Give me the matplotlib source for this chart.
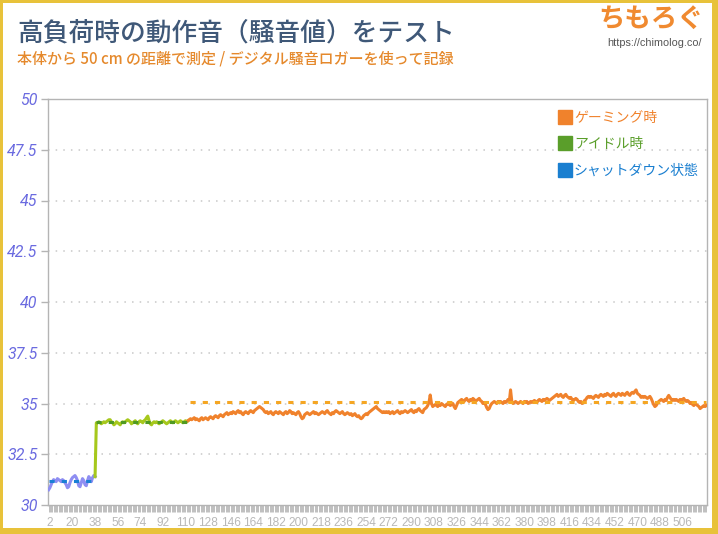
import matplotlib
matplotlib.use("Agg")
import matplotlib.pyplot as plt
import numpy as np
from matplotlib.lines import Line2D
from matplotlib.patches import Rectangle

plt.rcParams["font.family"] = ["Noto Sans CJK JP", "DejaVu Sans"]

# --- data -------------------------------------------------------------
title = "高負荷時の動作音（騒音値）をテスト"
subtitle = "本体から 50 cm の距離で測定 / デジタル騒音ロガーを使って記録"
series_names = ["ゲーミング時", "アイドル時", "シャットダウン状態"]

n_points = 525
x_label_first = 2
x_label_last = 506
x_label_step = 18
y_ticks = [30, 32.5, 35, 37.5, 40, 42.5, 45, 47.5, 50]
y_labels = ["30", "32.5", "35", "37.5", "40", "42.5", "45", "47.5", "50"]

# shutdown state, samples 1..38
shutdown_start = 1
shutdown = [
    30.75, 30.85, 31.0, 31.15, 31.25, 31.2, 31.15, 31.3, 31.25, 31.2,
    31.15, 31.25, 31.2, 31.1, 31.0, 30.85, 30.9, 31.1, 31.25, 31.35,
    31.4, 31.45, 31.35, 31.2, 30.95, 30.9, 31.1, 31.3, 31.2, 31.0,
    30.95, 31.2, 31.4, 31.3, 31.15, 31.35, 31.45, 31.4,
]
shutdown_avg = 31.18

# idle, samples 38..112 (first value joins the shutdown line)
idle_start = 38
idle = [
    31.4, 34.05,
    34.05, 34.1, 34.05, 34.0, 34.05, 34.1, 34.05, 34.1, 34.15, 34.2,
    34.2, 34.1, 34.05, 33.95, 34.0, 34.1, 34.05, 34.0, 33.95, 34.05,
    34.1, 34.05, 34.1, 34.15, 34.2, 34.15, 34.1, 34.0, 34.05, 34.1,
    34.15, 34.05, 34.0, 34.1, 34.15, 34.1, 34.05, 34.15, 34.2, 34.3,
    34.38, 34.15, 34.0, 33.95, 34.05, 34.1, 34.05, 34.1, 34.05, 34.0,
    34.05, 34.1, 34.15, 34.1, 34.05, 34.0, 34.05, 34.1, 34.15, 34.1,
    34.05, 34.1, 34.15, 34.1, 34.05, 34.1, 34.15, 34.1, 34.05, 34.1,
    34.15, 34.1, 34.15,
]
idle_avg = 34.08

# gaming, samples 112..525
gaming_start = 112
gaming = [
    34.15, 34.2, 34.25, 34.2, 34.25, 34.3, 34.2, 34.25, 34.2, 34.15, 34.25, 34.3, 34.2, 34.25,
    34.3, 34.25, 34.2, 34.3, 34.35, 34.3, 34.25, 34.35, 34.4, 34.35,
    34.3, 34.4, 34.45, 34.4, 34.35, 34.45, 34.5, 34.55, 34.45, 34.5,
    34.55, 34.5, 34.6, 34.55, 34.5, 34.6, 34.65, 34.55, 34.6, 34.5,
    34.45, 34.55, 34.6, 34.55, 34.5, 34.6, 34.65, 34.6, 34.55, 34.65,
    34.7, 34.75, 34.8, 34.85, 34.8,
    34.75, 34.7, 34.6, 34.55, 34.6, 34.5, 34.55, 34.6, 34.5, 34.45,
    34.55, 34.6, 34.55, 34.5, 34.6, 34.55, 34.5, 34.45, 34.55, 34.6,
    34.5, 34.55, 34.65, 34.6, 34.5, 34.55, 34.5, 34.45, 34.55, 34.6,
    34.5, 34.35, 34.25, 34.3, 34.45, 34.5, 34.55, 34.5, 34.45, 34.5,
    34.55, 34.6, 34.5, 34.55, 34.5, 34.45, 34.5, 34.55, 34.6, 34.55,
    34.5, 34.6, 34.65, 34.55, 34.5, 34.45, 34.55, 34.5, 34.6, 34.65,
    34.6, 34.55, 34.5, 34.55, 34.6, 34.5, 34.45, 34.5, 34.55, 34.5,
    34.45, 34.5, 34.4, 34.45, 34.5, 34.4, 34.35, 34.4, 34.3, 34.25,
    34.3, 34.4, 34.45, 34.5, 34.45, 34.55, 34.6, 34.65, 34.7, 34.75,
    34.8, 34.85, 34.75, 34.7, 34.65, 34.6, 34.55, 34.6, 34.55, 34.6,
    34.55, 34.6, 34.5, 34.55, 34.6, 34.5, 34.55, 34.6, 34.65, 34.55,
    34.5, 34.6, 34.55, 34.6, 34.65, 34.6, 34.55, 34.6, 34.65, 34.7,
    34.6, 34.55, 34.65, 34.6, 34.7, 34.75, 34.65, 34.6, 34.55, 34.7,
    34.75, 34.8, 34.9, 35.05, 35.42, 35.0, 34.85, 34.9, 34.95, 34.9,
    34.85, 34.95, 34.9, 35.0, 34.95, 34.9, 34.85, 34.95, 35.0, 34.95,
    34.9, 34.95, 35.0, 34.85, 34.75, 34.9, 35.05, 35.1, 35.15, 35.2,
    35.15, 35.1, 35.2, 35.25, 35.15, 35.1, 35.2, 35.15, 35.25, 35.2,
    35.1, 35.15, 35.2, 35.25, 35.15, 35.1, 35.0, 35.05, 34.95, 34.8,
    34.7, 34.75, 34.9, 35.0, 35.05, 35.1, 35.05, 35.0, 35.1, 35.05,
    35.1, 35.05, 35.0, 35.1, 35.05, 35.1, 35.2, 35.1, 35.67, 35.1,
    35.0, 35.05, 35.1, 35.05, 35.0, 35.05, 35.1, 35.05, 35.0, 35.1,
    35.05, 35.1, 35.0, 35.05, 35.1, 35.05, 35.1, 35.15, 35.1, 35.05,
    35.15, 35.2, 35.15, 35.1, 35.2, 35.15, 35.2, 35.25, 35.2, 35.15,
    35.2, 35.25, 35.3, 35.35, 35.4, 35.45, 35.35, 35.4, 35.45, 35.35,
    35.3, 35.4, 35.45, 35.35, 35.3, 35.25, 35.3, 35.2, 35.15, 35.2,
    35.25, 35.2, 35.1, 35.05, 35.1, 35.0, 35.05, 35.15, 35.2, 35.3,
    35.35, 35.3, 35.35, 35.3, 35.25, 35.35, 35.4, 35.35, 35.3, 35.4,
    35.45, 35.4, 35.35, 35.45, 35.4, 35.5, 35.45, 35.4, 35.35, 35.45,
    35.5, 35.4, 35.35, 35.45, 35.5, 35.45, 35.4, 35.5, 35.45, 35.4,
    35.5, 35.55, 35.45, 35.4, 35.5, 35.55, 35.5, 35.6, 35.67, 35.5,
    35.45, 35.4, 35.3, 35.35, 35.3, 35.35, 35.3, 35.25, 35.3, 35.35,
    35.25, 35.1, 34.95, 34.85, 34.9, 35.0, 35.1, 35.15, 35.2, 35.15,
    35.1, 35.2, 35.15, 35.3, 35.4, 35.3, 35.2, 35.15, 35.2, 35.15,
    35.2, 35.15, 35.1, 35.2, 35.15, 35.2, 35.25, 35.15, 35.1, 35.15,
    35.1, 35.0, 35.05, 34.95, 34.9, 35.0, 34.95, 34.9, 34.85, 34.75,
    34.8, 34.85, 34.9, 34.85, 34.9,
]
gaming_avg = 35.08

# --- colours ----------------------------------------------------------
c_title = "#3f5878"
c_sub = "#e5892c"
c_gaming, c_gaming_avg = "#f0822c", "#f5a623"
c_idle, c_idle_avg = "#a6c81c", "#4f9a22"
c_shut, c_shut_avg = "#8e8ef2", "#1a7fd5"
legend_colors = ["#f0822c", "#5a9e2a", "#1a7fd0"]
c_axis = "#b4b4b4"

W, H = 718, 534
fig = plt.figure(figsize=(W / 100, H / 100), dpi=100)
fig.patch.set_facecolor("white")

ax = fig.add_axes([48 / W, 29 / H, 659 / W, 406 / H])

x_shut = np.arange(shutdown_start, shutdown_start + len(shutdown))
x_idle = np.arange(idle_start, idle_start + len(idle))
x_game = np.arange(gaming_start, gaming_start + len(gaming))

lw = 2.2
ax.plot(x_shut, shutdown, color=c_shut, lw=lw, zorder=3, solid_joinstyle="round")
ax.plot(x_idle, idle, color=c_idle, lw=lw, zorder=3, solid_joinstyle="round")
ax.plot(x_game, gaming, color=c_gaming, lw=lw, zorder=3, solid_joinstyle="round")

dash = (1.7, 2.3)
ax.plot([x_shut[0], x_shut[-1]], [shutdown_avg] * 2, color=c_shut_avg, lw=2.2, dashes=dash, zorder=4)
ax.plot([x_idle[1], x_idle[-1]], [idle_avg] * 2, color=c_idle_avg, lw=2.2, dashes=dash, zorder=4)
ax.plot([x_game[2], n_points], [gaming_avg] * 2, color=c_gaming_avg, lw=2.2, dashes=dash, zorder=4)

ax.set_xlim(0.5, n_points + 0.5)
ax.set_ylim(y_ticks[0], y_ticks[-1])

# y axis
ax.set_yticks(y_ticks)
ax.set_yticklabels(y_labels, family=["Roboto", "DejaVu Sans"],
                   style="italic", fontsize=11.5, color="#6b6be0")
ax.tick_params(axis="y", length=5, width=1, color=c_axis, pad=2.5)
for yv in y_ticks[1:-1]:
    ax.axhline(yv, color="#c8c8c8", lw=1.1, linestyle=(0, (1, 4)), zorder=1)

# x axis: a tick at every sample, label every 18th
x_labels = list(range(x_label_first, x_label_last + 1, x_label_step))
ax.set_xticks(x_labels)
ax.set_xticklabels([str(v) for v in x_labels], family=["Liberation Sans", "DejaVu Sans"],
                   fontsize=8.6, color="#b8b8b8")
ax.set_xticks(np.arange(1, n_points + 1), minor=True)
ax.tick_params(axis="x", which="both", length=5, width=0.6, color=c_axis, pad=4)

for s in ax.spines.values():
    s.set_color(c_axis)
    s.set_linewidth(1)

# legend
handles = [Line2D([], [], marker="s", linestyle="none", markersize=10,
                  markerfacecolor=c, markeredgecolor=c) for c in legend_colors]
ax.legend(handles, series_names, loc="upper left", bbox_to_anchor=(558 / W, 1 - 111 / H),
          bbox_transform=fig.transFigure, frameon=False, labelcolor=legend_colors,
          fontsize=10, handletextpad=0.15, handlelength=1.0, labelspacing=0.88,
          borderpad=0, borderaxespad=0)

# titles and logo
fig.text(17 / W, 1 - 33 / H, title, fontsize=18.5, fontweight="medium", color=c_title,
         va="center", ha="left")
fig.text(17 / W, 1 - 59 / H, subtitle, fontsize=10.8, fontweight="medium", color=c_sub,
         va="center", ha="left")
fig.text(651 / W, 1 - 19 / H, "ちもろぐ", fontsize=19, fontweight="bold", color="#f08a30",
         va="center", ha="center")
fig.text(655 / W, 1 - 43 / H, "https://chimolog.co/", fontsize=7.8, color="#555555",
         va="center", ha="center", family=["Liberation Sans", "DejaVu Sans"])

# gold frame
gold = "#e8c23a"
for (x0, y0, w, h) in [(0, 0, 3, H), (0, H - 3, W, 3), (W - 6, 0, 6, H), (0, 0, W, 6)]:
    fig.patches.append(Rectangle((x0 / W, y0 / H), w / W, h / H, transform=fig.transFigure,
                                 facecolor=gold, edgecolor="none", zorder=10))

fig.savefig("out.png", dpi=100, facecolor="white")
